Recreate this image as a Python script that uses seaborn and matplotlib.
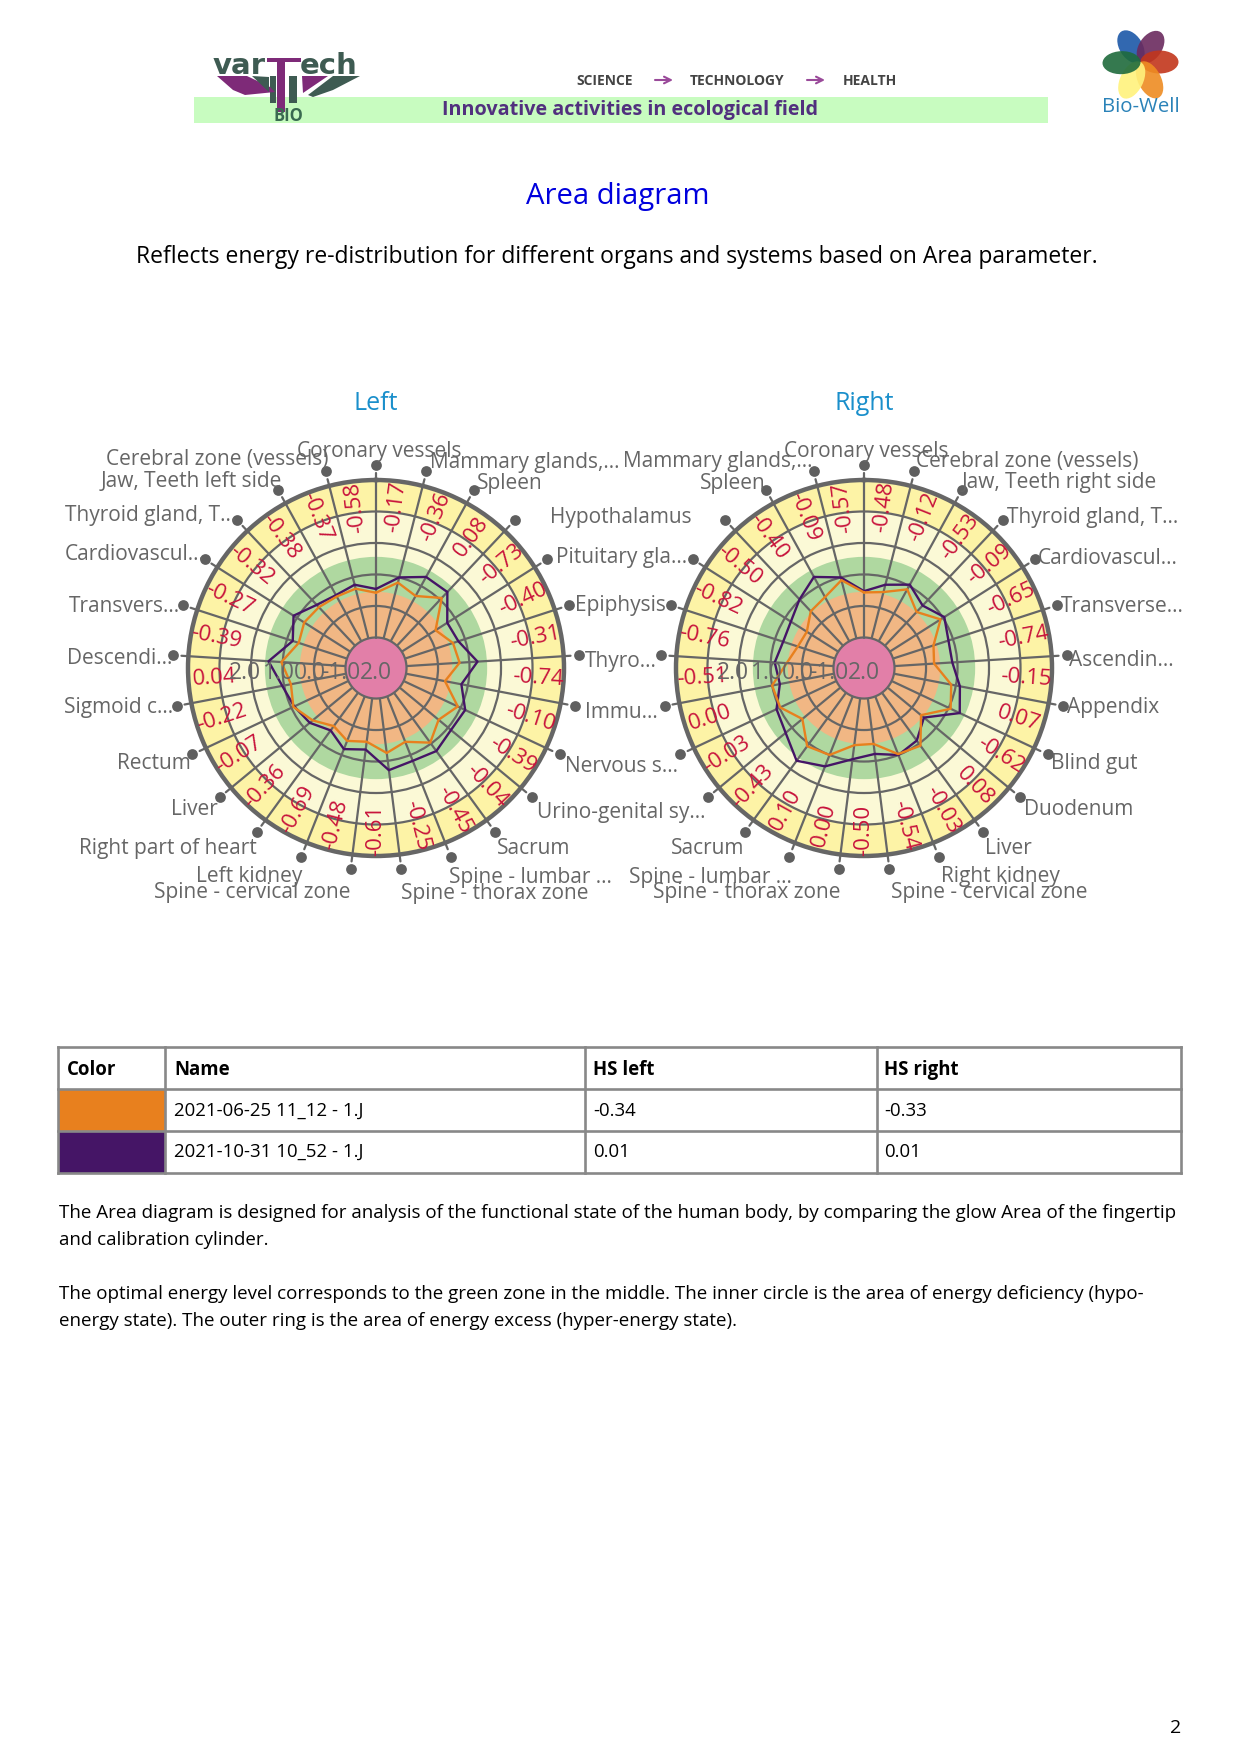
import numpy as np
import pandas as pd
import matplotlib
matplotlib.use("Agg")
import matplotlib.pyplot as plt
import seaborn as sns
from matplotlib.patches import Rectangle, Polygon, Ellipse

# ----------------------
# data (clockwise from the top spoke)
# ----------------------
left_categories = ["Coronary vessels", "Mammary glands,...", "Spleen", "Hypothalamus", "Pituitary gla...",
                   "Epiphysis", "Thyro...", "Immu...", "Nervous s...", "Urino-genital sy...", "Sacrum",
                   "Spine - lumbar ...", "Spine - thorax zone", "Spine - cervical zone", "Left kidney",
                   "Right part of heart", "Liver", "Rectum", "Sigmoid c...", "Descendi...", "Transvers...",
                   "Cardiovascul...", "Thyroid gland, T...", "Jaw, Teeth left side", "Cerebral zone (vessels)"]
right_categories = ["Coronary vessels", "Cerebral zone (vessels)", "Jaw, Teeth right side", "Thyroid gland, T...",
                    "Cardiovascul...", "Transverse...", "Ascendin...", "Appendix", "Blind gut", "Duodenum", "Liver",
                    "Right kidney", "Spine - cervical zone", "Spine - thorax zone", "Spine - lumbar ...", "Sacrum",
                    "Urino-genital sy...", "Nervous s...", "Immu...", "Thyro...", "Epiphysis", "Pituitary gla...",
                    "Hypothalamus", "Spleen", "Mammary glands,..."]

left_orange = [-0.58, -0.17, -0.36, 0.08, -0.73, -0.40, -0.31, -0.74, -0.10, -0.39, -0.04, -0.45, -0.25,
               -0.61, -0.48, -0.69, -0.36, -0.07, -0.22, 0.04, -0.39, -0.27, -0.32, -0.38, -0.37]
left_purple = [-0.46, 0.00, 0.33, 0.34, -0.29, -0.22, 0.26, -0.21, 0.16, 0.12, 0.29, 0.20, 0.30,
               -0.36, -0.20, -0.52, -0.24, -0.10, 0.06, 0.45, -0.19, 0.13, -0.22, -0.33, -0.24]
right_orange = [-0.57, -0.48, -0.12, -0.53, -0.09, -0.65, -0.74, -0.15, 0.07, -0.62, 0.08, -0.03, -0.54,
                -0.50, 0.00, 0.10, -0.43, -0.03, 0.00, -0.51, -0.76, -0.82, -0.50, -0.40, -0.09]
right_purple = [-0.53, -0.24, 0.05, -0.25, 0.05, -0.15, -0.16, 0.13, 0.39, -0.50, -0.12, 0.00, -0.22,
                -0.05, 0.39, 0.67, 0.26, 0.10, -0.25, -0.13, -0.27, -0.22, 0.02, 0.33, 0.00]

axis_labels = ["2.0", "1.0", "0.0", "-1.0", "2.0"]
table_names = ["2021-06-25 11_12 - 1.J", "2021-10-31 10_52 - 1.J"]
hs_left = ["-0.34", "0.01"]
hs_right = ["-0.33", "0.01"]

# page pixel positions of the outer labels (left edge, vertical middle)
left_label_pos = [(297, 449), (430, 460), (477, 481), (550, 516), (556, 556), (575, 604), (585, 659), (585, 711),
                  (565, 764), (537, 810), (497, 846), (449, 875), (401, 891), (154, 890), (196, 874), (79, 846),
                  (171, 807), (117, 761), (64, 706), (67, 656), (69, 604), (65, 553), (65, 513), (101, 479), (106, 457)]
# the seven labels between the two charts fall on the left chart's ones
right_label_pos = [(784, 449), (916, 459), (962, 480), (1007, 516), (1038, 556), (1061, 604), (1069, 659), (1067, 706),
                   (1051, 761), (1024, 807), (985, 846), (941, 874), (891, 890), (653, 890), (629, 875), (671, 846),
                   None, None, None, None, None, None, None, (700, 481), (623, 459)]

ORANGE = "#E8801E"
PURPLE = "#451566"
GREY = "#666666"
RED = "#C8143C"
W, H = 1240, 1755

sns.set_theme(style="white")
plt.rcParams["font.family"] = ["Open Sans", "DejaVu Sans"]
plt.rcParams["axes.unicode_minus"] = False

fig = plt.figure(figsize=(W / 100, H / 100), dpi=100, facecolor="white")


def draw_radar(cx, cy, orange, purple):
    R = 188
    ax = fig.add_axes([(cx - R) / W, 1 - (cy + R) / H, 2 * R / W, 2 * R / H], projection="polar")
    n = len(orange)
    theta = np.arange(n) * 2 * np.pi / n

    ax.set_theta_zero_location("N")
    ax.set_theta_direction(-1)

    # zones
    for low, high, col in [(-2.97, 3, "#FDF3A6"), (-2.97, 2, "#FBF9D6"), (-2.97, 0.56, "#AFD8A0"), (-2.97, -0.55, "#F1B784")]:
        ax.bar(0, high - low, width=2 * np.pi, bottom=low, color=col, edgecolor="none", zorder=1)
    circle = np.linspace(0, 2 * np.pi, 200)
    ax.fill_between(circle, -2.97, -2, color="#E27FA8", linewidth=0, zorder=2.6)
    ax.plot(circle, [-2] * 200, color=GREY, lw=1.6, zorder=2.7)

    # closed polygons
    for vals, col in [(purple, PURPLE), (orange, ORANGE)]:
        df = pd.DataFrame({"theta": np.append(theta, theta[0]), "value": list(vals) + [vals[0]]})
        sns.lineplot(data=df, x="theta", y="value", sort=False, estimator=None, color=col, lw=1.7, ax=ax, zorder=3)

    # red values in the middle of the sectors
    for i, v in enumerate(orange):
        deg = (i * 360 / n - 180 / n) % 360
        rot = 90 - deg if deg < 180 or deg > 350 else 270 - deg
        ax.text(np.deg2rad(deg), 2.18, f"{v:.2f}", color=RED, fontsize=16, rotation=rot % 360,
                rotation_mode="anchor", ha="center", va="center", zorder=4)

    # ticks and dots outside the rim
    for t in theta:
        ax.plot([t, t], [3, 3.22], color=GREY, lw=1.6, clip_on=False, zorder=3)
    ax.scatter(theta, [3.476] * n, s=60, color="#5F5F5F", clip_on=False, zorder=3, linewidth=0)

    ax.set_ylim(-2.97, 3)
    ax.set_xticks(theta)
    ax.set_yticks([-1, 0, 1, 2])
    ax.set_xticklabels([])
    ax.set_yticklabels([])
    ax.set_xlabel("")
    ax.set_ylabel("")
    ax.set_axisbelow(False)
    ax.grid(True, color=GREY, lw=1.6)
    ax.tick_params(length=0, pad=0)
    ax.spines["polar"].set_linewidth(3.2)
    ax.spines["polar"].set_color(GREY)
    ax.patch.set_alpha(0)
    return ax


draw_radar(376, 668, left_orange, left_purple)
draw_radar(864, 668, right_orange, right_purple)

# page overlay in pixel coordinates
page = fig.add_axes([0, 0, 1, 1], zorder=10)
page.set_xlim(0, W)
page.set_ylim(H, 0)
page.axis("off")
page.patch.set_alpha(0)


def put(x, y, s, size, color="black", ha="left", **kw):
    page.text(x, y + 2, s, fontsize=size, color=color, ha=ha, va="center", **kw)


for cats, pos in [(left_categories, left_label_pos), (right_categories, right_label_pos)]:
    for name, p in zip(cats, pos):
        if p is not None:
            put(p[0], p[1], name, 15, GREY)

for cx in (376, 864):
    for off, s in zip((-147, -113, -82, -55, -16), axis_labels):
        put(cx + off, 671, s, 16.5, GREY)

put(618, 194, "Area diagram", 21.1, "#0000DD", ha="center")
put(617, 255, "Reflects energy re-distribution for different organs and systems based on Area parameter.", 16.5, ha="center")
put(376, 401, "Left", 18, "#1A8FCB", ha="center")
put(864, 401, "Right", 18, "#1A8FCB", ha="center")

# table
x_cols = [58, 165, 585, 877, 1181]
y_rows = [1047, 1089, 1131, 1173]
page.add_patch(Rectangle((x_cols[0], y_rows[1]), x_cols[1] - x_cols[0], y_rows[2] - y_rows[1], color=ORANGE, lw=0))
page.add_patch(Rectangle((x_cols[0], y_rows[2]), x_cols[1] - x_cols[0], y_rows[3] - y_rows[2], color=PURPLE, lw=0))
for x in x_cols:
    page.plot([x, x], [y_rows[0], y_rows[-1]], color="#888888", lw=1.9, solid_capstyle="projecting")
for y in y_rows:
    page.plot([x_cols[0], x_cols[-1]], [y, y], color="#888888", lw=1.9, solid_capstyle="projecting")
for x, s in zip((67, 174, 593, 884), ("Color", "Name", "HS left", "HS right")):
    put(x, 1068, s, 13.4, fontweight="bold")
for i, y in enumerate((1109, 1150)):
    put(174, y, table_names[i], 13.4)
    put(593, y, hs_left[i], 13.4)
    put(884, y, hs_right[i], 13.4)

# paragraphs
put(59, 1211, "The Area diagram is designed for analysis of the functional state of the human body, by comparing the glow Area of the fingertip", 13.5)
put(59, 1238, "and calibration cylinder.", 13.5)
put(59, 1292, "The optimal energy level corresponds to the green zone in the middle. The inner circle is the area of energy deficiency (hypo-", 13.5)
put(59, 1319, "energy state). The outer ring is the area of energy excess (hyper-energy state).", 13.5)
put(1181, 1726, "2", 14, ha="right")

# header band
page.add_patch(Rectangle((194, 97), 854, 26, color="#C8FCC0", lw=0))
put(442, 108, "Innovative activities in ecological field", 14.2, "#51307E", fontweight="bold")
for x, s in [(576, "SCIENCE"), (690, "TECHNOLOGY"), (843, "HEALTH")]:
    put(x, 79, s, 10, "#444444", fontweight="bold")
for x0, x1 in [(655, 673), (807, 825)]:
    page.annotate("", xy=(x1, 80), xytext=(x0, 80),
                  arrowprops=dict(arrowstyle="->", color="#9A4A9A", lw=1.5, shrinkA=0, shrinkB=0, mutation_scale=12))

# varTech logo
VT = "#3E5B52"
VP = "#7E2A78"
put(213, 64, "var", 21, VT, fontweight="bold", family="DejaVu Sans")
put(300, 64, "ech", 21, VT, fontweight="bold", family="DejaVu Sans")
page.add_patch(Rectangle((267, 58), 34, 4, color=VP, lw=0))
page.add_patch(Rectangle((277, 58), 8, 54, color=VP, lw=0))
page.add_patch(Rectangle((289, 76), 8, 27, color=VT, lw=0))
page.add_patch(Rectangle((270, 76), 6, 27, color=VT, lw=0))
page.add_patch(Polygon([(217, 76), (247, 76), (270, 87), (275, 92), (245, 95), (233, 90)], color=VP, lw=0))
page.add_patch(Polygon([(252, 76), (269, 77), (269, 92)], color=VT, lw=0))
page.add_patch(Polygon([(302, 76), (328, 76), (303, 93)], color=VP, lw=0))
page.add_patch(Polygon([(333, 76), (360, 76), (333, 90), (313, 97), (308, 95)], color=VT, lw=0))
put(288, 114, "BIO", 12, "#3A6A50", ha="center", fontweight="bold")

# Bio-Well flower
fx, fy = 1140.5, 62
for ang, col, length in [(-122, "#1B57A8", 36), (-56, "#6A2A5E", 36), (0, "#C2361C", 38), (63, "#EE8C22", 40),
                         (116, "#FFF27C", 40), (178, "#1F6B3C", 38)]:
    a = np.deg2rad(ang)
    page.add_patch(Ellipse((fx + length / 2 * np.cos(a), fy + length / 2 * np.sin(a)), length, 23, angle=ang,
                           color=col, alpha=0.9, lw=0))
put(1141, 105, "Bio-Well", 14.7, "#2A82B8", ha="center")

fig.savefig("out.png", dpi=100, facecolor="white")
